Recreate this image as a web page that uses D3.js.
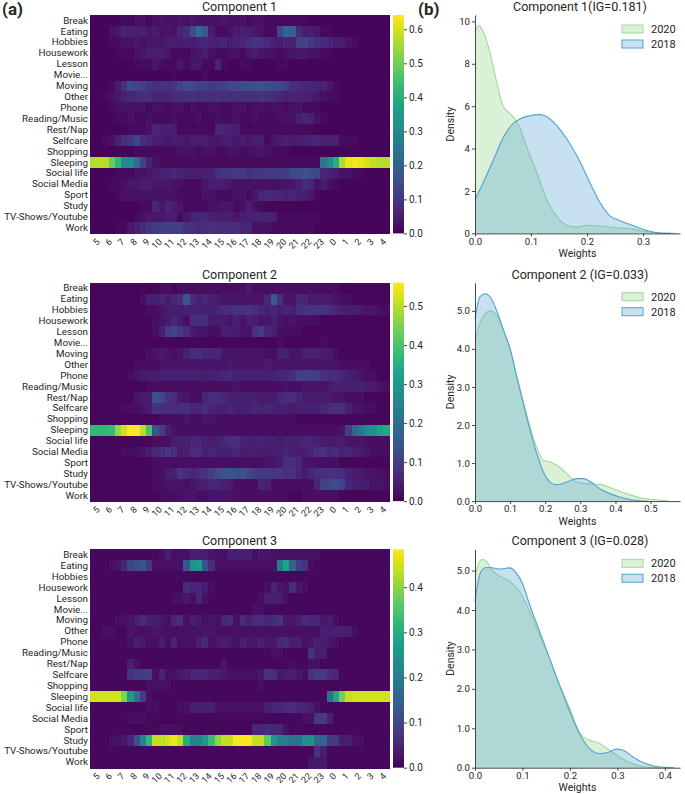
<!DOCTYPE html>
<html>
<head>
<meta charset="utf-8">
<script src="https://cdn.jsdelivr.net/npm/d3@7"></script>
<style>
  body { margin: 0; background: #fff; }
  text { font-family: Roboto, "Noto Sans", sans-serif; fill: #262626; }
  rect.cell { shape-rendering: crispEdges; }
</style>
</head>
<body>
<div id="container"></div>
<script>
const WIDTH = 685;
const HEIGHT = 794;

// filas de los heatmaps
const activities = ['Break', 'Eating', 'Hobbies', 'Housework', 'Lesson', 'Movie...', 'Moving', 'Other',
  'Phone', 'Reading/Music', 'Rest/Nap', 'Selfcare', 'Shopping', 'Sleeping', 'Social life',
  'Social Media', 'Sport', 'Study', 'TV-Shows/Youtube', 'Work'];

// etiquetas de hora (48 franjas de media hora, una etiqueta por hora)
const hours = ['5', '6', '7', '8', '9', '10', '11', '12', '13', '14', '15', '16', '17', '18', '19',
  '20', '21', '22', '23', '0', '1', '2', '3', '4'];

// Component 1 (una fila por actividad, 48 franjas)
const comp1 = [
  [.01,.01,.01,.01,.01,.02,.02,.03, .03,.02,.03,.04,.03,.03,.04,.03, .04,.03,.03,.03,.03,.04,.03,.03, .03,.02,.03,.03,.02,.02,.02,.02, .02,.02,.02,.01,.01,.01,.01,.01, .01,.01,.01,.01,.01,.01,.01,.01],
  [.01,.01,.01,.03,.04,.06,.06,.05, .06,.04,.05,.03,.04,.03,.07,.08, .15,.22,.17,.05,.02,.02,.03,.05, .06,.05,.04,.03,.02,.02,.14,.21, .2,.08,.05,.05,.04,.02,.02,.01, .01,.01,.01,.01,.01,.01,.01,.01],
  [.01,.01,.01,.02,.02,.03,.03,.04, .03,.04,.04,.04,.05,.05,.05,.06, .05,.06,.07,.06,.06,.07,.05,.06, .07,.08,.1,.09,.08,.06,.05,.07, .06,.12,.13,.11,.09,.08,.07,.05, .05,.03,.02,.01,.01,.01,.01,.01],
  [.01,.01,.01,.01,.02,.02,.02,.03, .04,.05,.05,.05,.04,.02,.02,.02, .03,.04,.05,.03,.02,.02,.03,.03, .02,.04,.05,.04,.03,.03,.02,.03, .04,.04,.04,.03,.03,.02,.02,.01, .01,.01,.01,.01,.01,.01,.01,.01],
  [.01,.01,.01,.01,.01,.01,.01,.02, .02,.02,.04,.02,.02,.02,.04,.02, .04,.04,.02,.02,.07,.02,.01,.01, .02,.02,.01,.01,.01,.01,.02,.02, .01,.01,.01,.01,.01,.01,.01,.01, .01,.01,.01,.01,.01,.01,.01,.01],
  [.01,.01,.01,.01,.01,.01,.01,.01, .01,.01,.01,.01,.01,.02,.01,.01, .01,.01,.02,.01,.01,.01,.01,.01, .01,.01,.01,.01,.01,.01,.01,.01, .01,.01,.01,.01,.01,.01,.01,.01, .01,.01,.01,.01,.01,.01,.01,.01],
  [.01,.01,.01,.02,.05,.09,.15,.13, .12,.1,.09,.1,.09,.1,.13,.15, .14,.12,.12,.11,.12,.12,.14,.14, .15,.15,.16,.16,.15,.14,.14,.12, .09,.08,.07,.07,.06,.06,.04,.02, .01,.01,.01,.01,.01,.01,.01,.01],
  [.01,.01,.02,.03,.04,.06,.07,.08, .09,.08,.07,.07,.07,.08,.08,.08, .09,.08,.09,.09,.09,.09,.08,.09, .09,.09,.08,.1,.09,.08,.07,.06, .07,.06,.06,.05,.04,.03,.02,.02, .01,.01,.01,.01,.01,.01,.01,.01],
  [.01,.01,.01,.02,.03,.03,.03,.03, .03,.02,.03,.03,.02,.03,.03,.02, .03,.02,.02,.03,.03,.02,.02,.03, .03,.02,.03,.03,.02,.03,.03,.02, .03,.03,.02,.02,.02,.01,.01,.01, .01,.01,.01,.01,.01,.01,.01,.01],
  [.01,.01,.01,.01,.02,.02,.03,.02, .02,.03,.02,.02,.02,.03,.02,.02, .02,.03,.02,.02,.03,.02,.02,.03, .02,.02,.03,.02,.02,.02,.03,.03, .03,.05,.07,.06,.03,.02,.01,.01, .01,.01,.01,.01,.01,.01,.01,.01],
  [.01,.01,.01,.01,.01,.01,.02,.02, .02,.03,.07,.06,.06,.05,.02,.02, .02,.02,.02,.02,.07,.07,.06,.05, .02,.02,.02,.02,.02,.02,.02,.02, .02,.02,.02,.02,.01,.01,.01,.01, .01,.01,.01,.01,.01,.01,.01,.01],
  [.01,.01,.02,.03,.06,.09,.1,.13, .08,.07,.05,.05,.04,.05,.05,.04, .05,.05,.05,.04,.04,.05,.05,.04, .05,.04,.05,.05,.02,.04,.05,.06, .05,.05,.06,.06,.07,.06,.06,.06, .02,.02,.02,.01,.01,.01,.01,.01],
  [.01,.01,.01,.01,.01,.01,.01,.02, .02,.02,.02,.02,.02,.02,.03,.03, .03,.02,.03,.03,.02,.02,.03,.03, .02,.03,.03,.04,.03,.02,.02,.02, .01,.01,.01,.01,.01,.01,.01,.01, .01,.01,.01,.01,.01,.01,.01,.01],
  [.57,.57,.57,.49,.42,.31,.3,.22, .12,.06,.03,.02,.02,.02,.02,.02, .02,.02,.02,.02,.02,.02,.02,.02, .02,.02,.02,.02,.02,.02,.02,.02, .02,.02,.02,.02,.02,.25,.31,.4, .56,.62,.63,.62,.6,.58,.57,.57],
  [.01,.01,.01,.01,.02,.02,.02,.03, .03,.04,.05,.06,.06,.07,.06,.05, .05,.05,.06,.06,.09,.1,.1,.11, .11,.09,.1,.1,.11,.11,.11,.11, .14,.15,.16,.15,.14,.07,.06,.05, .03,.03,.02,.02,.01,.01,.01,.01],
  [.01,.01,.01,.02,.02,.03,.04,.04, .05,.05,.04,.04,.04,.03,.03,.02, .02,.02,.04,.05,.05,.05,.04,.03, .03,.03,.03,.03,.03,.03,.03,.04, .04,.06,.08,.07,.03,.05,.03,.02, .01,.01,.01,.01,.01,.01,.01,.01],
  [.01,.01,.01,.01,.02,.03,.03,.03, .03,.03,.03,.03,.03,.03,.02,.02, .02,.02,.03,.03,.02,.02,.02,.03, .03,.02,.04,.07,.08,.07,.07,.06, .07,.06,.05,.04,.02,.01,.01,.01, .01,.01,.01,.01,.01,.01,.01,.01],
  [.01,.01,.01,.01,.01,.01,.01,.01, .02,.02,.07,.04,.07,.05,.04,.02, .02,.02,.02,.03,.03,.04,.04,.02, .03,.06,.03,.02,.01,.01,.01,.01, .01,.01,.01,.01,.01,.01,.01,.01, .01,.01,.01,.01,.01,.01,.01,.01],
  [.01,.01,.01,.01,.01,.01,.01,.02, .03,.04,.04,.04,.05,.05,.02,.04, .06,.07,.07,.06,.05,.05,.06,.04, .05,.06,.06,.06,.06,.06,.02,.02, .02,.02,.02,.02,.02,.01,.01,.01, .01,.01,.01,.01,.01,.01,.01,.01],
  [.01,.01,.01,.01,.02,.02,.04,.06, .08,.1,.11,.12,.12,.12,.12,.09, .09,.08,.08,.09,.08,.09,.08,.08, .07,.07,.03,.03,.03,.02,.02,.02, .02,.02,.02,.02,.01,.01,.01,.01, .01,.01,.01,.01,.01,.01,.01,.01]
];

// Component 2
const comp2 = [
  [.01,.01,.01,.01,.01,.01,.01,.01, .01,.01,.01,.02,.02,.01,.02,.02, .02,.02,.02,.02,.02,.02,.02,.02, .02,.04,.02,.02,.02,.02,.02,.02, .02,.02,.02,.02,.02,.02,.02,.02, .01,.01,.01,.01,.01,.01,.01,.01],
  [.01,.01,.01,.01,.01,.01,.01,.01, .02,.05,.05,.06,.04,.06,.07,.15, .07,.05,.06,.05,.04,.03,.03,.03, .03,.03,.03,.03,.06,.16,.07,.03, .03,.06,.06,.04,.04,.04,.04,.03, .02,.02,.01,.01,.01,.01,.01,.01],
  [.01,.01,.01,.01,.01,.01,.01,.01, .01,.02,.02,.03,.04,.04,.04,.05, .05,.05,.05,.05,.06,.07,.07,.08, .08,.08,.07,.06,.05,.06,.05,.06, .05,.07,.08,.09,.08,.08,.07,.06, .05,.05,.05,.04,.03,.03,.02,.02],
  [.01,.01,.01,.01,.01,.01,.01,.01, .01,.01,.02,.03,.04,.06,.04,.02, .07,.07,.07,.04,.04,.04,.03,.05, .03,.05,.05,.03,.03,.05,.03,.02, .03,.02,.02,.02,.02,.01,.01,.01, .01,.01,.01,.01,.01,.01,.01,.01],
  [.01,.01,.01,.01,.01,.01,.01,.01, .01,.01,.02,.05,.1,.12,.09,.07, .04,.03,.03,.02,.02,.05,.05,.04, .03,.03,.08,.1,.06,.05,.02,.02, .02,.02,.01,.01,.01,.01,.01,.01, .01,.01,.01,.01,.01,.01,.01,.01],
  [.01,.01,.01,.01,.01,.01,.01,.01, .01,.01,.01,.01,.01,.01,.01,.01, .01,.01,.01,.01,.01,.01,.01,.01, .01,.01,.01,.01,.01,.01,.02,.01, .01,.01,.01,.01,.01,.02,.01,.01, .01,.01,.01,.01,.01,.01,.01,.01],
  [.01,.01,.01,.01,.01,.01,.01,.01, .01,.02,.03,.04,.03,.02,.03,.05, .07,.07,.06,.06,.06,.03,.03,.03, .03,.03,.03,.03,.02,.02,.05,.05, .03,.03,.05,.05,.05,.04,.04,.02, .01,.01,.01,.01,.01,.01,.01,.01],
  [.01,.01,.01,.01,.01,.01,.01,.02, .02,.02,.02,.03,.03,.03,.03,.03, .03,.03,.03,.03,.03,.03,.04,.03, .03,.03,.03,.03,.04,.03,.03,.03, .03,.03,.03,.03,.03,.03,.03,.03, .02,.02,.02,.02,.02,.01,.01,.01],
  [.01,.01,.01,.01,.01,.01,.02,.03, .04,.04,.04,.05,.05,.05,.05,.05, .05,.05,.04,.05,.05,.06,.06,.05, .05,.05,.05,.05,.05,.05,.06,.06, .07,.1,.11,.1,.1,.08,.07,.07, .06,.05,.04,.03,.02,.02,.01,.01],
  [.01,.01,.01,.01,.01,.01,.01,.01, .01,.02,.02,.02,.02,.02,.02,.02, .02,.02,.02,.02,.02,.02,.02,.03, .02,.02,.02,.02,.02,.02,.02,.03, .02,.02,.03,.03,.03,.03,.04,.05, .05,.05,.05,.05,.04,.04,.03,.02],
  [.01,.01,.01,.01,.01,.01,.01,.03, .04,.04,.14,.12,.08,.07,.04,.03, .02,.02,.06,.07,.07,.06,.05,.05, .05,.05,.05,.04,.04,.04,.06,.07, .07,.06,.04,.04,.04,.04,.04,.03, .03,.02,.02,.02,.01,.01,.01,.01],
  [.01,.01,.01,.01,.01,.02,.02,.02, .03,.04,.08,.07,.07,.07,.07,.07, .06,.06,.07,.06,.05,.05,.06,.05, .05,.05,.06,.05,.06,.05,.05,.05, .04,.05,.05,.05,.05,.06,.07,.08, .07,.05,.03,.03,.02,.02,.01,.01],
  [.01,.01,.01,.01,.01,.01,.01,.01, .01,.01,.01,.02,.02,.02,.02,.03, .02,.02,.03,.03,.02,.02,.02,.02, .02,.02,.02,.02,.02,.02,.02,.02, .02,.01,.01,.01,.01,.01,.01,.01, .01,.01,.01,.01,.01,.01,.01,.01],
  [.37,.37,.37,.38,.47,.52,.56,.56, .5,.4,.15,.1,.05,.03,.02,.02, .02,.02,.02,.02,.02,.02,.02,.02, .02,.02,.02,.02,.02,.02,.02,.02, .02,.02,.02,.02,.02,.02,.02,.02, .03,.1,.18,.22,.27,.28,.32,.34],
  [.01,.01,.01,.01,.01,.01,.01,.01, .01,.01,.02,.02,.02,.04,.05,.05, .06,.06,.05,.04,.05,.06,.07,.07, .06,.05,.05,.06,.05,.05,.04,.05, .05,.05,.06,.06,.05,.04,.04,.04, .04,.03,.03,.03,.02,.02,.02,.02],
  [.01,.01,.01,.01,.01,.02,.02,.02, .03,.04,.06,.07,.09,.07,.04,.05, .07,.07,.05,.06,.05,.05,.05,.06, .04,.05,.05,.04,.04,.05,.05,.06, .05,.04,.05,.06,.07,.08,.06,.07, .05,.06,.05,.04,.03,.02,.02,.02],
  [.01,.01,.01,.01,.01,.01,.01,.01, .01,.01,.02,.02,.02,.02,.02,.02, .02,.02,.02,.02,.02,.02,.02,.02, .02,.02,.02,.02,.03,.03,.04,.07, .07,.06,.03,.03,.02,.02,.02,.02, .01,.01,.01,.01,.01,.01,.01,.01],
  [.01,.01,.01,.01,.01,.01,.01,.01, .01,.01,.02,.02,.04,.05,.08,.07, .06,.07,.08,.1,.13,.14,.15,.13, .14,.12,.1,.09,.09,.08,.09,.07, .08,.06,.04,.06,.07,.07,.08,.07, .07,.05,.04,.04,.03,.03,.02,.02],
  [.01,.01,.01,.01,.01,.01,.01,.01, .01,.01,.02,.02,.03,.03,.03,.02, .03,.04,.05,.06,.06,.05,.04,.02, .02,.02,.02,.06,.05,.02,.02,.02, .02,.02,.02,.02,.06,.11,.12,.13, .11,.06,.05,.04,.04,.03,.03,.02],
  [.01,.01,.01,.01,.01,.01,.01,.01, .01,.01,.01,.02,.02,.02,.02,.03, .03,.02,.02,.03,.03,.03,.03,.02, .02,.02,.02,.02,.02,.02,.02,.02, .01,.01,.02,.02,.02,.02,.02,.02, .01,.01,.01,.01,.01,.01,.01,.01]
];

// Component 3
const comp3 = [
  [.01,.01,.01,.01,.01,.01,.01,.01, .01,.01,.01,.02,.04,.02,.02,.02, .04,.04,.04,.03,.02,.02,.04,.04, .04,.04,.02,.03,.03,.02,.02,.02, .02,.02,.02,.02,.02,.01,.01,.01, .01,.01,.01,.01,.01,.01,.01,.01],
  [.01,.01,.01,.02,.03,.05,.1,.11, .13,.08,.02,.02,.02,.02,.02,.13, .25,.26,.12,.06,.02,.02,.02,.02, .02,.02,.02,.02,.02,.02,.2,.28, .15,.08,.07,.02,.01,.01,.01,.01, .01,.01,.01,.01,.01,.01,.01,.01],
  [.01,.01,.01,.01,.01,.01,.01,.01, .01,.01,.01,.01,.01,.01,.01,.01, .01,.01,.01,.01,.01,.01,.01,.01, .01,.01,.01,.01,.01,.01,.01,.01, .01,.01,.01,.01,.01,.01,.01,.01, .01,.01,.01,.01,.01,.01,.01,.01],
  [.01,.01,.01,.01,.01,.01,.01,.01, .01,.01,.01,.01,.01,.01,.01,.06, .05,.05,.04,.02,.01,.01,.01,.01, .01,.01,.01,.01,.02,.05,.03,.02, .06,.03,.02,.01,.01,.01,.01,.01, .01,.01,.01,.01,.01,.01,.01,.01],
  [.01,.01,.01,.01,.01,.01,.01,.01, .01,.01,.01,.01,.01,.02,.02,.03, .02,.05,.02,.01,.01,.01,.01,.01, .01,.01,.01,.02,.04,.04,.04,.02, .01,.01,.01,.01,.01,.01,.01,.01, .01,.01,.01,.01,.01,.01,.01,.01],
  [.01,.01,.01,.01,.01,.01,.01,.01, .01,.01,.01,.01,.01,.01,.01,.01, .01,.01,.01,.01,.01,.01,.01,.01, .01,.01,.02,.02,.01,.01,.01,.01, .01,.01,.01,.01,.01,.01,.01,.01, .01,.01,.01,.01,.01,.01,.01,.01],
  [.01,.01,.01,.01,.02,.02,.03,.04, .06,.04,.04,.03,.02,.05,.06,.02, .04,.03,.02,.03,.02,.05,.06,.02, .06,.04,.06,.06,.05,.06,.07,.03, .03,.04,.06,.05,.05,.03,.04,.02, .01,.01,.01,.01,.01,.01,.01,.01],
  [.01,.01,.02,.02,.01,.01,.03,.02, .02,.02,.03,.02,.02,.02,.02,.02, .02,.02,.03,.03,.02,.02,.02,.02, .02,.02,.02,.02,.02,.02,.02,.02, .02,.02,.02,.02,.02,.04,.04,.04, .04,.04,.02,.01,.01,.01,.01,.01],
  [.01,.01,.01,.01,.01,.01,.02,.04, .03,.02,.02,.04,.02,.05,.02,.02, .02,.04,.05,.02,.03,.04,.03,.02, .04,.03,.03,.04,.03,.03,.05,.06, .04,.04,.02,.03,.04,.04,.03,.02, .01,.01,.01,.01,.01,.01,.01,.01],
  [.01,.01,.01,.01,.01,.01,.01,.01, .01,.01,.01,.01,.01,.01,.01,.01, .01,.01,.01,.01,.01,.01,.01,.01, .01,.01,.01,.01,.01,.02,.02,.01, .01,.01,.01,.07,.04,.04,.01,.01, .01,.01,.01,.01,.01,.01,.01,.01],
  [.01,.01,.01,.01,.01,.01,.04,.02, .01,.01,.01,.01,.01,.01,.01,.01, .01,.01,.01,.01,.01,.03,.01,.01, .01,.01,.01,.01,.01,.01,.01,.01, .02,.01,.01,.02,.02,.01,.01,.01, .01,.01,.01,.01,.01,.01,.01,.01],
  [.01,.01,.01,.01,.01,.01,.07,.08, .08,.09,.02,.05,.02,.02,.03,.04, .05,.05,.05,.04,.04,.03,.02,.02, .02,.02,.02,.03,.07,.06,.03,.04, .04,.03,.02,.07,.08,.08,.06,.05, .01,.01,.01,.01,.01,.01,.01,.01],
  [.01,.01,.01,.01,.01,.01,.01,.01, .01,.02,.02,.02,.02,.01,.01,.01, .01,.01,.01,.01,.01,.01,.01,.01, .01,.01,.01,.02,.01,.01,.01,.01, .01,.01,.01,.01,.01,.01,.01,.01, .01,.01,.01,.01,.01,.01,.01,.01],
  [.45,.45,.45,.45,.45,.39,.26,.18, .08,.02,.01,.01,.01,.01,.01,.01, .01,.01,.01,.01,.01,.01,.01,.01, .01,.01,.01,.01,.01,.01,.01,.01, .01,.01,.01,.01,.01,.01,.18,.28, .38,.44,.45,.45,.45,.45,.45,.45],
  [.01,.01,.01,.01,.01,.01,.01,.01, .01,.02,.02,.01,.01,.01,.02,.02, .04,.04,.04,.04,.02,.02,.02,.02, .02,.02,.02,.02,.04,.05,.05,.06, .06,.05,.05,.04,.02,.01,.01,.01, .01,.01,.01,.01,.01,.01,.01,.01],
  [.01,.01,.01,.01,.01,.01,.02,.02, .02,.01,.01,.01,.01,.01,.01,.01, .01,.01,.01,.01,.01,.01,.01,.01, .01,.01,.01,.01,.01,.01,.01,.01, .01,.01,.02,.02,.08,.08,.04,.01, .01,.01,.01,.01,.01,.01,.01,.01],
  [.01,.01,.01,.01,.01,.01,.01,.01, .01,.01,.01,.02,.02,.02,.02,.01, .01,.01,.01,.01,.01,.01,.01,.01, .01,.01,.05,.05,.06,.05,.05,.02, .01,.01,.01,.01,.01,.01,.01,.01, .01,.01,.01,.01,.01,.01,.01,.01],
  [.01,.01,.01,.02,.02,.03,.05,.12, .22,.32,.44,.44,.45,.47,.44,.3, .22,.22,.26,.33,.4,.44,.44,.48, .48,.48,.44,.44,.36,.25,.2,.2, .18,.18,.24,.24,.16,.16,.08,.08, .04,.04,.02,.02,.01,.01,.01,.01],
  [.01,.01,.01,.01,.01,.01,.01,.01, .01,.01,.01,.01,.01,.01,.01,.01, .01,.01,.01,.01,.01,.01,.01,.01, .01,.01,.01,.01,.01,.01,.01,.01, .01,.01,.01,.01,.07,.04,.01,.01, .01,.01,.01,.01,.01,.01,.01,.01],
  [.01,.01,.01,.01,.01,.01,.01,.01, .01,.01,.01,.01,.01,.01,.01,.01, .01,.01,.01,.01,.01,.01,.01,.01, .01,.01,.01,.01,.01,.01,.01,.01, .01,.01,.01,.03,.03,.03,.01,.01, .01,.01,.01,.01,.01,.01,.01,.01]
];

const vmax = [0.642, 0.56, 0.484];
const cbarTicks = [[0, .1, .2, .3, .4, .5, .6], [0, .1, .2, .3, .4, .5], [0, .1, .2, .3, .4]];
const igValues = ['0.181', '0.033', '0.028'];

// curvas de densidad (x = peso, y = densidad)
const kde1_2020 = [[0,9.5],[0.007,9.8],[0.015,9.5],[0.027,8.5],[0.039,7.1],[0.05,6.0],[0.058,5.75],[0.068,5.5],[0.08,5.0],[0.092,4.1],[0.11,2.9],[0.128,1.6],[0.146,0.8],[0.164,0.38],[0.18,0.3],[0.2,0.38],[0.22,0.36],[0.247,0.28],[0.283,0.2],[0.3,0.1],[0.32,0.04],[0.34,0.01],[0.36,0]];
const kde1_2018 = [[0,1.6],[0.02,2.7],[0.035,3.6],[0.05,4.5],[0.065,5.1],[0.08,5.4],[0.098,5.55],[0.115,5.6],[0.125,5.55],[0.14,5.25],[0.164,4.45],[0.188,3.35],[0.205,2.4],[0.223,1.46],[0.241,0.83],[0.259,0.6],[0.283,0.36],[0.3,0.2],[0.318,0.06],[0.335,0.01],[0.35,0]];
const kde2_2020 = [[0,4.2],[0.014,4.67],[0.029,4.93],[0.043,5.0],[0.062,4.88],[0.081,4.5],[0.1,4.0],[0.119,3.3],[0.138,2.6],[0.157,1.95],[0.176,1.4],[0.195,1.07],[0.214,1.03],[0.233,0.94],[0.262,0.72],[0.29,0.5],[0.319,0.46],[0.357,0.44],[0.395,0.32],[0.433,0.19],[0.471,0.09],[0.51,0.04],[0.55,0]];
const kde2_2018 = [[0,4.8],[0.014,5.37],[0.029,5.45],[0.043,5.37],[0.062,5.0],[0.081,4.5],[0.1,4.0],[0.119,3.26],[0.138,2.56],[0.157,1.86],[0.176,1.25],[0.195,0.76],[0.214,0.5],[0.233,0.43],[0.262,0.5],[0.29,0.59],[0.31,0.59],[0.33,0.5],[0.357,0.32],[0.386,0.19],[0.414,0.1],[0.45,0.03],[0.49,0]];
const kde3_2020 = [[0,4.85],[0.007,5.15],[0.015,5.28],[0.024,5.24],[0.035,5.03],[0.052,4.86],[0.073,4.73],[0.094,4.47],[0.115,3.97],[0.136,3.37],[0.157,2.78],[0.178,2.1],[0.2,1.5],[0.22,0.9],[0.241,0.7],[0.262,0.62],[0.283,0.45],[0.304,0.28],[0.325,0.14],[0.346,0.05],[0.37,0.01],[0.39,0]];
const kde3_2018 = [[0,4.22],[0.01,4.9],[0.021,5.07],[0.031,5.08],[0.052,5.04],[0.073,5.07],[0.087,4.94],[0.101,4.64],[0.115,4.14],[0.136,3.46],[0.157,2.78],[0.178,2.1],[0.2,1.42],[0.22,0.87],[0.241,0.49],[0.262,0.36],[0.283,0.4],[0.297,0.47],[0.311,0.45],[0.332,0.28],[0.353,0.14],[0.374,0.05],[0.4,0.01],[0.42,0]];

const kdeX = [0.366, 0.584, 0.432];
const kdeY = [10.3, 5.74, 5.54];
const kdeYTicks = [[0, 2, 4, 6, 8, 10], [0, 1, 2, 3, 4, 5], [0, 1, 2, 3, 4, 5]];
const kdeXTicks = [[0, .1, .2, .3], [0, .1, .2, .3, .4, .5], [0, .1, .2, .3, .4]];

const GREEN = '#a3d99c';
const BLUE = '#52a2cf';

const svg = d3.select('#container')
  .append('svg')
    .attr('width', WIDTH)
    .attr('height', HEIGHT);

const PANEL_TOP = [15, 282.7, 549.3];
const PANEL_H = 218.4;
const HM = { LEFT: 90, RIGHT: 389 };
const CB = { LEFT: 393, W: 11 };
const KD = { LEFT: 475, RIGHT: 680 };

svg.append('text').attr('x', 2).attr('y', 15).text('(a)')
  .style('font-size', '17px').style('font-weight', 'bold');
svg.append('text').attr('x', 418).attr('y', 15).text('(b)')
  .style('font-size', '17px').style('font-weight', 'bold');

// gradiente viridis para las barras de color
const defs = svg.append('defs');
const grad = defs.append('linearGradient').attr('id', 'viridis')
  .attr('x1', 0).attr('y1', 1).attr('x2', 0).attr('y2', 0);
d3.range(0, 1.001, 0.05).forEach(t => {
  grad.append('stop').attr('offset', t).attr('stop-color', d3.interpolateViridis(t));
});

const comps = [comp1, comp2, comp3];
const kdes = [[kde1_2020, kde1_2018], [kde2_2020, kde2_2018], [kde3_2020, kde3_2018]];

comps.forEach((comp, ci) => {
  const top = PANEL_TOP[ci];
  const bottom = top + PANEL_H;

  const x = d3.scaleBand().domain(d3.range(48)).range([HM.LEFT, HM.RIGHT]);
  const xh = d3.scaleBand().domain(hours).range([HM.LEFT, HM.RIGHT]);
  const y = d3.scaleBand().domain(activities).range([top, bottom]);
  const color = d3.scaleSequential(d3.interpolateViridis).domain([0, vmax[ci]]);

  const g = svg.append('g');

  const cells = [];
  comp.forEach((row, ri) => row.forEach((v, si) => cells.push({ a: activities[ri], s: si, v })));

  g.selectAll('rect.cell')
    .data(cells)
    .enter()
    .append('rect')
      .attr('class', 'cell')
      .attr('x', d => x(d.s))
      .attr('y', d => y(d.a))
      .attr('width', x.bandwidth() + 1)
      .attr('height', y.bandwidth() + 1)
      .attr('fill', d => color(d.v));

  g.append('text')
    .attr('x', (HM.LEFT + HM.RIGHT) / 2).attr('y', top - 4)
    .attr('text-anchor', 'middle')
    .style('font-size', '12.5px')
    .text('Component ' + (ci + 1));

  const yAxis = g.append('g')
    .attr('transform', `translate(${HM.LEFT},0)`)
    .call(d3.axisLeft(y).tickSize(0).tickPadding(2));
  yAxis.select('.domain').remove();
  yAxis.selectAll('text').style('font-size', '9.8px').attr('fill', '#262626');

  const xAxis = g.append('g')
    .attr('transform', `translate(0,${bottom})`)
    .call(d3.axisBottom(xh).tickSize(0).tickPadding(0));
  xAxis.select('.domain').remove();
  xAxis.selectAll('text')
    .style('font-size', '9px')
    .attr('fill', '#262626')
    .attr('text-anchor', 'end')
    .attr('dy', '0')
    .attr('transform', 'translate(4,9) rotate(-45)');

  // barra de color
  const cy = d3.scaleLinear().domain([0, vmax[ci]]).range([bottom, top]);
  g.append('rect')
    .attr('x', CB.LEFT).attr('y', top)
    .attr('width', CB.W).attr('height', PANEL_H)
    .attr('fill', 'url(#viridis)');
  const cAxis = g.append('g')
    .attr('transform', `translate(${CB.LEFT + CB.W},0)`)
    .call(d3.axisRight(cy).tickValues(cbarTicks[ci]).tickFormat(d3.format('.1f')).tickSize(3).tickPadding(2));
  cAxis.select('.domain').remove();
  cAxis.selectAll('line').attr('stroke', '#444');
  cAxis.selectAll('text').style('font-size', '10px').attr('fill', '#262626');

  // densidades
  const kx = d3.scaleLinear().domain([0, kdeX[ci]]).range([KD.LEFT, KD.RIGHT]);
  const ky = d3.scaleLinear().domain([0, kdeY[ci]]).range([bottom, top]);
  const area = d3.area().x(d => kx(d[0])).y0(ky(0)).y1(d => ky(d[1])).curve(d3.curveMonotoneX);
  const line = d3.line().x(d => kx(d[0])).y(d => ky(d[1])).curve(d3.curveMonotoneX);
  const kg = svg.append('g');
  [[kdes[ci][0], GREEN, 0.4], [kdes[ci][1], BLUE, 0.32]].forEach(([pts, col, op]) => {
    kg.append('path').datum(pts).attr('d', area).attr('fill', col).attr('fill-opacity', op);
    kg.append('path').datum(pts).attr('d', line).attr('fill', 'none').attr('stroke', col).attr('stroke-width', 1.1);
  });

  const kxa = kg.append('g').attr('transform', `translate(0,${bottom})`)
    .call(d3.axisBottom(kx).tickValues(kdeXTicks[ci]).tickFormat(d3.format('.1f')).tickSize(3).tickSizeOuter(0).tickPadding(1.5));
  const kya = kg.append('g').attr('transform', `translate(${KD.LEFT},0)`)
    .call(d3.axisLeft(ky).tickValues(kdeYTicks[ci]).tickSize(3).tickSizeOuter(0).tickPadding(2));
  [kxa, kya].forEach(a => {
    a.selectAll('.domain, line').attr('stroke', '#333').attr('stroke-width', 0.9);
    a.selectAll('text').style('font-size', '9.6px').attr('fill', '#262626');
  });

  kg.append('text')
    .attr('x', (KD.LEFT + KD.RIGHT) / 2).attr('y', bottom + 23.5)
    .attr('text-anchor', 'middle').style('font-size', '10.5px').text('Weights');
  kg.append('text')
    .attr('transform', `translate(${KD.LEFT - 21},${(top + bottom) / 2}) rotate(-90)`)
    .attr('text-anchor', 'middle').style('font-size', '10.5px').text('Density');
  kg.append('text')
    .attr('x', 580).attr('y', top - 4)
    .attr('text-anchor', 'middle').style('font-size', '12.5px')
    .text(`Component ${ci + 1}${ci === 0 ? '' : ' '}(IG=${igValues[ci]})`);

  // leyenda
  [['2020', GREEN, 0.4], ['2018', BLUE, 0.32]].forEach(([lab, col, op], li) => {
    const ly = top + 10 + li * 15;
    kg.append('rect').attr('x', 622).attr('y', ly).attr('width', 21).attr('height', 8)
      .attr('fill', col).attr('fill-opacity', op).attr('stroke', col).attr('stroke-width', 1);
    kg.append('text').attr('x', 651).attr('y', ly + 8).style('font-size', '11px').text(lab);
  });
});
</script>
</body>
</html>
